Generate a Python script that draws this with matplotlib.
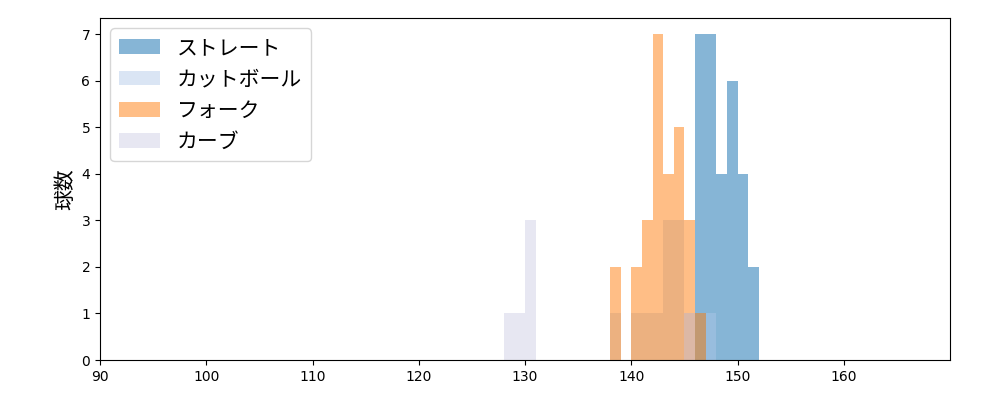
import matplotlib.pyplot as plt
import numpy as np

plt.rcParams['font.family'] = ['DejaVu Sans', 'Noto Sans CJK JP']

# pitch speeds (km/h) per type, one entry per pitch
straight = [146]*7 + [147]*7 + [148]*4 + [149]*6 + [150]*4 + [151]*2
cutball = [138, 140, 141, 142, 143, 143, 143, 144, 144, 144, 145, 147]
fork = [138]*2 + [140]*2 + [141]*3 + [142]*7 + [143]*4 + [144]*5 + [145]*3 + [146]
curve = [128, 129, 130, 130, 130, 145]

labels = ['ストレート', 'カットボール', 'フォーク', 'カーブ']
colors = ['#1f77b4', '#aec7e8', '#ff7f0e', '#c5c5e0']
alphas = [0.54, 0.45, 0.5, 0.4]

fig, ax = plt.subplots(figsize=(10, 4), dpi=100)
bins = np.arange(90, 171, 1)
for data, lab, c, a in zip([straight, cutball, fork, curve], labels, colors, alphas):
    ax.hist(np.array(data) + 0.5, bins=bins, color=c, alpha=a, label=lab)

ax.set_xlim(90, 170)
ax.set_ylim(0, 7.35)
ax.set_xticks(range(90, 170, 10))
ax.set_ylabel('球数', fontsize=15, family=['Noto Sans CJK JP'])
ax.legend(loc='upper left', prop={'family': ['Noto Sans CJK JP'], 'size': 15},
          labelspacing=0.45)
fig.subplots_adjust(left=0.1, right=0.95, top=0.955, bottom=0.1)
fig.savefig('out.png')
